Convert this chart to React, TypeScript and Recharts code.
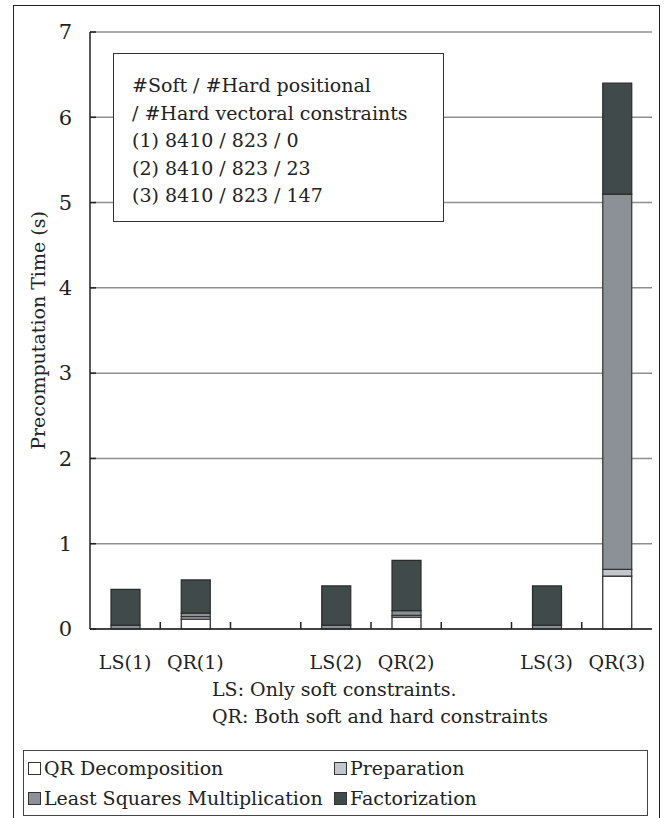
import { BarChart, Bar, XAxis, YAxis, CartesianGrid } from 'recharts';

const CATEGORIES = ['LS(1)', 'QR(1)', '', 'LS(2)', 'QR(2)', '', 'LS(3)', 'QR(3)'];
const QR_DECOMPOSITION = [0, 0.115, null, 0, 0.14, null, 0, 0.62];
const PREPARATION = [0, 0.03, null, 0, 0.02, null, 0, 0.08];
const LEAST_SQUARES = [0.045, 0.04, null, 0.045, 0.055, null, 0.045, 4.4];
const FACTORIZATION = [0.42, 0.39, null, 0.46, 0.59, null, 0.46, 1.3];
const Y_TICKS = [0, 1, 2, 3, 4, 5, 6, 7];

const INFO_LINES = [
  '#Soft / #Hard positional',
  '/ #Hard vectoral constraints',
  '(1) 8410 / 823 / 0',
  '(2) 8410 / 823 / 23',
  '(3) 8410 / 823 / 147',
];
const CAPTION_LINES = ['LS: Only soft constraints.', 'QR: Both soft and hard constraints'];

const SERIES = [
  { key: 'qr', name: 'QR Decomposition', fill: '#ffffff', stroke: '#222' },
  { key: 'prep', name: 'Preparation', fill: '#c3c7cb', stroke: '#333' },
  { key: 'lsm', name: 'Least Squares Multiplication', fill: '#8b9196', stroke: '#333' },
  { key: 'fact', name: 'Factorization', fill: '#414a4b', stroke: '#2a2a2a' },
];

const data = CATEGORIES.map((name, i) => ({
  name,
  qr: QR_DECOMPOSITION[i],
  prep: PREPARATION[i],
  lsm: LEAST_SQUARES[i],
  fact: FACTORIZATION[i],
}));

const W = 669;
const H = 818;
const PLOT_LEFT = 90;
const PLOT_RIGHT = 652;
const PLOT_TOP = 32;
const PLOT_BOTTOM = 629;
const FONT = '"DejaVu Serif", serif';

const BAND = (PLOT_RIGHT - PLOT_LEFT) / CATEGORIES.length;

// category label plus a short tick at the right edge of the band
const XTick = (props: any) => {
  const { x, payload, index } = props;
  return (
    <g>
      <text x={x} y={PLOT_BOTTOM + 33} dy="0.35em" textAnchor="middle" fontSize={19} fill="#222">
        {payload.value}
      </text>
      {index < CATEGORIES.length - 1 && (
        <line
          x1={x + BAND / 2}
          x2={x + BAND / 2}
          y1={PLOT_BOTTOM}
          y2={PLOT_BOTTOM - 7}
          stroke="#222"
          strokeWidth={1.5}
        />
      )}
    </g>
  );
};

const YTick = (props: any) => {
  const { y, payload } = props;
  return (
    <g>
      <text x={PLOT_LEFT - 18} y={y} dy="0.35em" textAnchor="end" fontSize={21} fill="#222">
        {payload.value}
      </text>
      <line x1={PLOT_LEFT} x2={PLOT_LEFT + 6} y1={y} y2={y} stroke="#222" strokeWidth={1.5} />
    </g>
  );
};

export default function App() {
  return (
    <div
      style={{
        position: 'absolute',
        left: 0,
        top: 0,
        width: W,
        height: H,
        overflow: 'hidden',
        background: '#fff',
        fontFamily: FONT,
        color: '#222',
      }}
    >
      {/* outer frame */}
      <div
        style={{
          position: 'absolute',
          left: 13,
          top: 5,
          width: 647,
          height: 830,
          border: '1.5px solid #222',
          boxSizing: 'border-box',
        }}
      />

      <div style={{ position: 'absolute', left: 0, top: 0 }}>
        <BarChart
          width={W}
          height={H}
          data={data}
          barSize={29}
          margin={{ top: PLOT_TOP, right: W - PLOT_RIGHT, bottom: H - PLOT_BOTTOM - 40, left: 0 }}
          style={{ fontFamily: FONT }}
        >
          <CartesianGrid vertical={false} stroke="#8f8f8f" strokeWidth={1.5} />
          <XAxis
            dataKey="name"
            height={40}
            tick={<XTick />}
            tickLine={false}
            axisLine={{ stroke: '#222', strokeWidth: 1.5 }}
            interval={0}
          />
          <YAxis
            width={PLOT_LEFT}
            domain={[0, 7]}
            ticks={Y_TICKS}
            tick={<YTick />}
            tickLine={false}
            axisLine={{ stroke: '#222', strokeWidth: 1.5 }}
            label={{
              value: 'Precomputation Time (s)',
              angle: -90,
              position: 'insideLeft',
              offset: 38,
              style: { textAnchor: 'middle', fontSize: 19, fill: '#222' },
            }}
          />
          <YAxis
            yAxisId="frame"
            orientation="right"
            width={0}
            tick={false}
            tickLine={false}
            axisLine={{ stroke: '#8f8f8f', strokeWidth: 1.5 }}
          />
          {SERIES.map((s) => (
            <Bar
              key={s.key}
              dataKey={s.key}
              name={s.name}
              stackId="t"
              fill={s.fill}
              stroke={s.stroke}
              strokeWidth={1.2}
              isAnimationActive={false}
            />
          ))}
        </BarChart>
      </div>

      {/* constraint counts box */}
      <div
        style={{
          position: 'absolute',
          left: 113,
          top: 53,
          width: 331,
          height: 169,
          border: '1.5px solid #333',
          background: '#fff',
          boxSizing: 'border-box',
          paddingLeft: 18,
          paddingTop: 18,
          fontSize: 19,
          lineHeight: '27.5px',
        }}
      >
        {INFO_LINES.map((t) => (
          <div key={t} style={{ whiteSpace: 'nowrap' }}>
            {t}
          </div>
        ))}
      </div>

      {/* caption under the axis */}
      <div
        style={{
          position: 'absolute',
          left: 212,
          top: 676,
          fontSize: 19,
          lineHeight: '27px',
        }}
      >
        {CAPTION_LINES.map((t) => (
          <div key={t} style={{ whiteSpace: 'nowrap' }}>
            {t}
          </div>
        ))}
      </div>

      {/* legend */}
      <div
        style={{
          position: 'absolute',
          left: 23,
          top: 750,
          width: 625,
          height: 66,
          border: '1.5px solid #444',
          boxSizing: 'border-box',
          display: 'grid',
          gridTemplateColumns: '306px auto',
          alignContent: 'center',
          paddingLeft: 4,
          fontSize: 19,
          lineHeight: '30px',
        }}
      >
        {SERIES.map((s) => (
          <div key={s.key} style={{ display: 'flex', alignItems: 'center', whiteSpace: 'nowrap' }}>
            <span
              style={{
                display: 'inline-block',
                width: 13,
                height: 13,
                background: s.fill,
                border: '1.2px solid #333',
                marginRight: 3,
                boxSizing: 'border-box',
              }}
            />
            {s.name}
          </div>
        ))}
      </div>
    </div>
  );
}
